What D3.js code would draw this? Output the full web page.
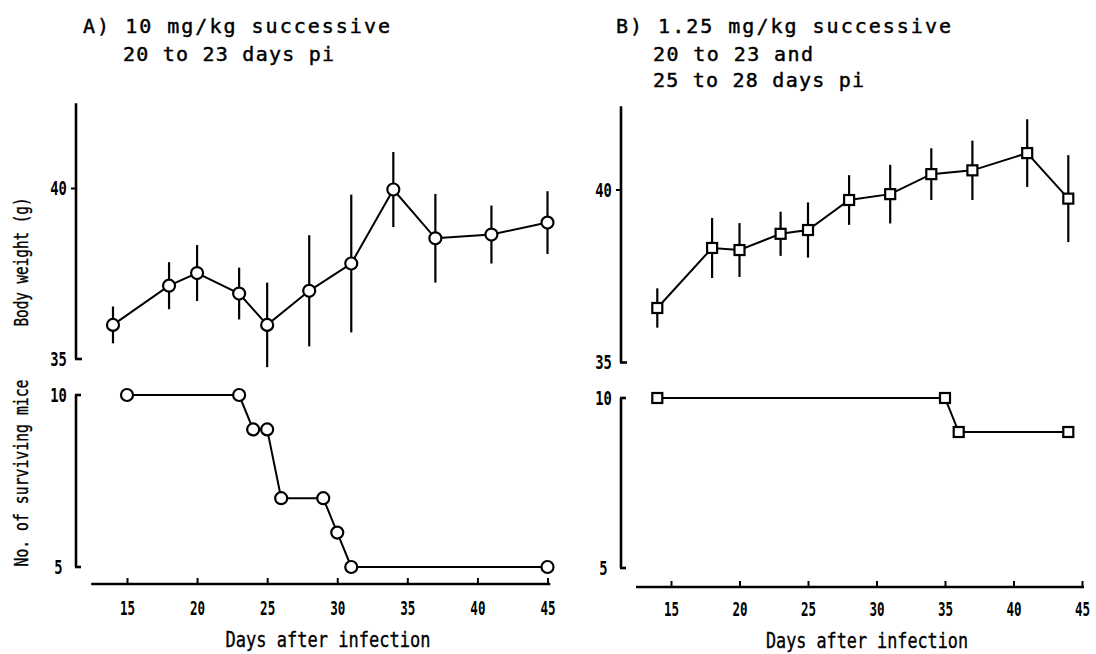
<!DOCTYPE html>
<html>
<head>
<meta charset="utf-8">
<script src="https://cdn.jsdelivr.net/npm/d3@7/dist/d3.min.js"></script>
<style>
  html, body { margin: 0; padding: 0; background: #fff; }
  svg { display: block; }
  text { font-family: "DejaVu Sans Mono", "Liberation Mono", monospace; fill: #000; }
</style>
</head>
<body>
<svg id="chart" width="1096" height="654"></svg>
<script>
// ---------- DATA ----------
// Panel A: 10 mg/kg successive, 20 to 23 days pi
const daysA_weight = [14, 18, 20, 23, 25, 28, 31, 34, 37, 41, 45];
const weightA      = [36.0, 37.15, 37.52, 36.92, 36.0, 37.0, 37.8, 39.97, 38.54, 38.65, 39.0];
const weightA_err  = [0.54, 0.69, 0.82, 0.76, 1.24, 1.63, 2.02, 1.1, 1.3, 0.85, 0.92];
const daysA_surv   = [15, 23, 24, 25, 26, 29, 30, 31, 45];
const miceA        = [10, 10, 9, 9, 7, 7, 6, 5, 5];

// Panel B: 1.25 mg/kg successive, 20 to 23 and 25 to 28 days pi
const daysB_weight = [14, 18, 20, 23, 25, 28, 31, 34, 37, 41, 44];
const weightB      = [36.58, 38.32, 38.26, 38.73, 38.84, 39.71, 39.88, 40.46, 40.57, 41.07, 39.75];
const weightB_err  = [0.57, 0.87, 0.78, 0.64, 0.8, 0.72, 0.85, 0.75, 0.86, 0.98, 1.26];
const daysB_surv   = [14, 35, 36, 44];
const miceB        = [10, 10, 9, 9];

const xTicks      = [15, 20, 25, 30, 35, 40, 45];
const weightTicks = [35, 40];
const miceTicks   = [5, 10];

const titleA = ["A) 10 mg/kg successive", "20 to 23 days pi"];
const titleB = ["B) 1.25 mg/kg successive", "20 to 23 and", "25 to 28 days pi"];
const xLabel = "Days after infection";
const yLabelWeight = "Body weight (g)";
const yLabelMice = "No. of surviving mice";

// ---------- LAYOUT ----------
const svg = d3.select("#chart");

const panels = [
  {
    key: "A", marker: "circle",
    x: d3.scaleLinear().domain([15, 45]).range([127, 547.5]),
    xExtent: [12.45, 45.2],
    yW: d3.scaleLinear().domain([35, 40]).range([359, 188.5]), yWTop: 42.5,
    yM: d3.scaleLinear().domain([5, 10]).range([567, 395]),
    axisX: 76, xAxisY: 584, tickBase: 615,
    days: daysA_weight, w: weightA, e: weightA_err,
    sDays: daysA_surv, mice: miceA,
    title: titleA, titlePos: [[83, 33, 307], [123, 61, 211]],
    xLabelPos: [328, 647, 205], ylabels: true
  },
  {
    key: "B", marker: "square",
    x: d3.scaleLinear().domain([15, 45]).range([671, 1082]),
    xExtent: [12.45, 45.15],
    yW: d3.scaleLinear().domain([35, 40]).range([362.5, 190]), yWTop: 42.43,
    yM: d3.scaleLinear().domain([5, 10]).range([568, 398]),
    axisX: 621, xAxisY: 587, tickBase: 616,
    days: daysB_weight, w: weightB, e: weightB_err,
    sDays: daysB_surv, mice: miceB,
    title: titleB, titlePos: [[616, 33, 335], [653, 61, 160], [653, 87, 211]],
    xLabelPos: [867, 648, 202], ylabels: false
  }
];

const AXW = 2.6;

panels.forEach(p => {
  const g = svg.append("g");

  // Titles
  p.title.forEach((t, i) => {
    const [tx, ty, tl] = p.titlePos[i];
    g.append("text").attr("x", tx).attr("y", ty)
      .attr("font-size", 20)
      .attr("stroke", "#000").attr("stroke-width", 0.45)
      .attr("textLength", tl).attr("lengthAdjust", "spacing")
      .text(t);
  });

  // ----- X axis (bottom) -----
  const xAxis = d3.axisBottom(p.x).tickValues(xTicks).tickSizeInner(-6).tickSizeOuter(0)
    .tickFormat(d3.format("d"));
  const gx = g.append("g").attr("transform", `translate(0,${p.xAxisY})`).call(xAxis);
  gx.select(".domain").remove();
  gx.selectAll(".tick line").attr("stroke", "#000").attr("stroke-width", 2);
  gx.selectAll(".tick text")
    .attr("y", p.tickBase - p.xAxisY).attr("dy", 0)
    .attr("fill", "#000")
    .attr("font-size", 19).attr("font-weight", "bold")
    .attr("font-family", "DejaVu Sans Mono")
    .attr("transform", "scale(0.66,1)");
  g.append("line")
    .attr("x1", p.x(p.xExtent[0])).attr("x2", p.x(p.xExtent[1]))
    .attr("y1", p.xAxisY).attr("y2", p.xAxisY)
    .attr("stroke", "#000").attr("stroke-width", AXW);

  g.append("text")
    .attr("x", p.xLabelPos[0]).attr("y", p.xLabelPos[1])
    .attr("text-anchor", "middle")
    .attr("font-size", 21)
    .attr("stroke", "#000").attr("stroke-width", 0.35)
    .attr("textLength", p.xLabelPos[2]).attr("lengthAdjust", "spacingAndGlyphs")
    .text(xLabel);

  // ----- Weight Y axis -----
  g.append("line")
    .attr("x1", p.axisX).attr("x2", p.axisX)
    .attr("y1", p.yW(p.yWTop)).attr("y2", p.yW(35))
    .attr("stroke", "#000").attr("stroke-width", AXW);
  g.append("line")
    .attr("x1", p.axisX - 1).attr("x2", p.axisX + 6)
    .attr("y1", p.yW(35)).attr("y2", p.yW(35))
    .attr("stroke", "#000").attr("stroke-width", AXW);
  g.append("line")
    .attr("x1", p.axisX - 5).attr("x2", p.axisX)
    .attr("y1", p.yW(40)).attr("y2", p.yW(40))
    .attr("stroke", "#000").attr("stroke-width", 2);
  const yWAxis = d3.axisLeft(p.yW).tickValues(weightTicks).tickSize(0).tickFormat(d3.format("d"));
  const gyw = g.append("g").attr("transform", `translate(${p.axisX},0)`).call(yWAxis);
  gyw.select(".domain").remove();

  // ----- Mice Y axis -----
  g.append("line")
    .attr("x1", p.axisX).attr("x2", p.axisX)
    .attr("y1", p.yM(10)).attr("y2", p.yM(5))
    .attr("stroke", "#000").attr("stroke-width", AXW);
  [10, 5].forEach(v => {
    g.append("line")
      .attr("x1", p.axisX - 1).attr("x2", p.axisX + 5)
      .attr("y1", p.yM(v)).attr("y2", p.yM(v))
      .attr("stroke", "#000").attr("stroke-width", AXW);
  });
  const yMAxis = d3.axisLeft(p.yM).tickValues(miceTicks).tickSize(0).tickFormat(d3.format("d"));
  const gym = g.append("g").attr("transform", `translate(${p.axisX},0)`).call(yMAxis);
  gym.select(".domain").remove();

  [gyw, gym].forEach(ga => {
    ga.selectAll(".tick text")
      .attr("x", -17.5).attr("text-anchor", "middle")
      .attr("fill", "#000")
      .attr("font-size", 19).attr("font-weight", "bold")
      .attr("font-family", "DejaVu Sans Mono")
      .each(function(d) {
        d3.select(this).attr("textLength", String(d).length * 8.3).attr("lengthAdjust", "spacingAndGlyphs");
      });
  });

  // Y labels (panel A only)
  if (p.ylabels) {
    g.append("text")
      .attr("transform", `translate(28,262) rotate(-90)`)
      .attr("text-anchor", "middle").attr("font-size", 19)
      .attr("stroke", "#000").attr("stroke-width", 0.35)
      .attr("textLength", 129).attr("lengthAdjust", "spacingAndGlyphs")
      .text(yLabelWeight);
    g.append("text")
      .attr("transform", `translate(28,473) rotate(-90)`)
      .attr("text-anchor", "middle").attr("font-size", 19)
      .attr("stroke", "#000").attr("stroke-width", 0.35)
      .attr("textLength", 187).attr("lengthAdjust", "spacingAndGlyphs")
      .text(yLabelMice);
  }

  // ----- Weight series -----
  const wData = p.days.map((d, i) => ({ d, v: p.w[i], e: p.e[i] }));
  g.selectAll(".err").data(wData).join("line")
    .attr("x1", d => p.x(d.d)).attr("x2", d => p.x(d.d))
    .attr("y1", d => p.yW(d.v - d.e)).attr("y2", d => p.yW(d.v + d.e))
    .attr("stroke", "#000").attr("stroke-width", 2.2);
  const line = d3.line().x(d => p.x(d.d)).y(d => p.yW(d.v));
  g.append("path").datum(wData).attr("d", line)
    .attr("fill", "none").attr("stroke", "#000").attr("stroke-width", 2);

  // ----- Survival series -----
  const sData = p.sDays.map((d, i) => ({ d, v: p.mice[i] }));
  const sline = d3.line().x(d => p.x(d.d)).y(d => p.yM(d.v));
  g.append("path").datum(sData).attr("d", sline)
    .attr("fill", "none").attr("stroke", "#000").attr("stroke-width", 2);

  // markers
  const drawMarkers = (data, yS) => {
    if (p.marker === "circle") {
      g.selectAll(null).data(data).join("circle")
        .attr("cx", d => p.x(d.d)).attr("cy", d => yS(d.v)).attr("r", 6)
        .attr("fill", "#fff").attr("stroke", "#000").attr("stroke-width", 2.2);
    } else {
      const s = 10;
      g.selectAll(null).data(data).join("rect")
        .attr("x", d => p.x(d.d) - s / 2).attr("y", d => yS(d.v) - s / 2)
        .attr("width", s).attr("height", s)
        .attr("fill", "#fff").attr("stroke", "#000").attr("stroke-width", 2.2);
    }
  };
  drawMarkers(wData, p.yW);
  drawMarkers(sData, p.yM);
});
</script>
</body>
</html>
